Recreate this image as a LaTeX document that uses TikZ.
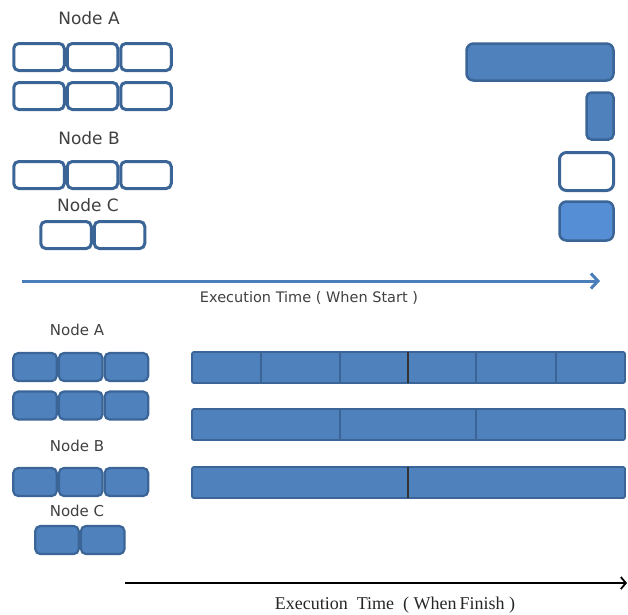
\documentclass[tikz,border=0pt]{standalone}
\usepackage{fontspec}
\setmainfont{Liberation Serif}
\setsansfont{DejaVu Sans}
\usetikzlibrary{positioning,arrows.meta}
\definecolor{boxblue}{HTML}{4F81BD}
\definecolor{boxedge}{HTML}{3A6596}
\definecolor{lightblue}{HTML}{558ED5}
\definecolor{arrowblue}{HTML}{4A7EBB}
\definecolor{labelgray}{HTML}{404040}
\tikzset{
  emptycell/.style={draw=boxedge, line width=3pt, fill=white, rounded corners=5pt,
    minimum width=50.5pt, minimum height=27pt, inner sep=0pt},
  fullcell/.style={draw=boxedge, line width=2.2pt, fill=boxblue, rounded corners=5pt,
    minimum width=43.5pt, minimum height=28pt, inner sep=0pt},
  toplabel/.style={text=labelgray, font=\sffamily\fontsize{17}{19}\selectfont},
  botlabel/.style={text=labelgray, font=\sffamily\fontsize{15}{17}\selectfont},
  barpart/.style={draw=boxedge, line width=1.8pt, fill=boxblue, rounded corners=2pt}
}
\begin{document}
\begin{tikzpicture}[x=1pt, y=-1pt]
\useasboundingbox (0,0) rectangle (628,614);
% when start
\node[toplabel] (sa) at (89,18) {Node A};
\node[emptycell] (sa1) at (39,57) {};
\node[emptycell, right=0pt of sa1] (sa2) {};
\node[emptycell, right=0pt of sa2] (sa3) {};
\node[emptycell] (sa4) at (39,96) {};
\node[emptycell, right=0pt of sa4] (sa5) {};
\node[emptycell, right=0pt of sa5] (sa6) {};
\node[toplabel] (sb) at (89,138) {Node B};
\node[emptycell] (sb1) at (39,175) {};
\node[emptycell, right=0pt of sb1] (sb2) {};
\node[emptycell, right=0pt of sb2] (sb3) {};
\node[toplabel] (sc) at (88,205) {Node C};
\node[emptycell] (sc1) at (66,235) {};
\node[emptycell, right=0pt of sc1] (sc2) {};

\node[fullcell, line width=2.5pt, minimum width=147pt, minimum height=37pt, rounded corners=7pt] (long) at (540,62) {};
\node[fullcell, line width=2.5pt, minimum width=27pt, minimum height=47pt] (tall) at (600,116) {};
\node[emptycell, minimum width=54pt, minimum height=38pt, rounded corners=7pt] (open) at (586.5,171.5) {};
\node[fullcell, fill=lightblue, line width=2.5pt, minimum width=54pt, minimum height=39pt, rounded corners=7pt] (done) at (586.5,221) {};

\coordinate (s0) at (22,281);
\coordinate (s1) at (600,281);
\draw[arrowblue, line width=3pt, -{Straight Barb[length=7pt,width=15pt]}] (s0)--(s1);
\node[text=labelgray, font=\sffamily\fontsize{14.5}{16}\selectfont] (slab) at (309,298) {Execution Time ( When Start )};

% when finish
\node[botlabel] (fa) at (77,330) {Node A};
\node[fullcell] (fa1) at (35,367) {};
\node[fullcell, right=0pt of fa1] (fa2) {};
\node[fullcell, right=0pt of fa2] (fa3) {};
\node[fullcell] (fa4) at (35,405.5) {};
\node[fullcell, right=0pt of fa4] (fa5) {};
\node[fullcell, right=0pt of fa5] (fa6) {};
\node[botlabel] (fb) at (77,446) {Node B};
\node[fullcell] (fb1) at (35,482) {};
\node[fullcell, right=0pt of fb1] (fb2) {};
\node[fullcell, right=0pt of fb2] (fb3) {};
\node[botlabel] (fc) at (77,511) {Node C};
\node[fullcell] (fc1) at (57,540) {};
\node[fullcell, right=0pt of fc1] (fc2) {};

\draw[barpart] (192,352) rectangle (625,383);
\foreach \x in {261,340,476,556} \draw[boxedge, line width=1.8pt] (\x,352)--(\x,383);
\draw[black!80, line width=1.4pt] (408,352)--(408,383);
\draw[barpart] (192,409) rectangle (625,440);
\foreach \x in {340,476} \draw[boxedge, line width=1.8pt] (\x,409)--(\x,440);
\draw[barpart] (192,467) rectangle (625,498);
\draw[black!80, line width=1.4pt] (408,467)--(408,498);

\coordinate (f0) at (125,583);
\coordinate (f1) at (627,583);
\draw[black, line width=1.8pt, -{Straight Barb[length=5pt,width=12pt]}] (f0)--(f1);
\node[text=black!85, font=\fontsize{18}{20}\selectfont] (flab) at (395,605) {Execution\ \ Time\ \ ( When\,Finish )};
\end{tikzpicture}
\end{document}
